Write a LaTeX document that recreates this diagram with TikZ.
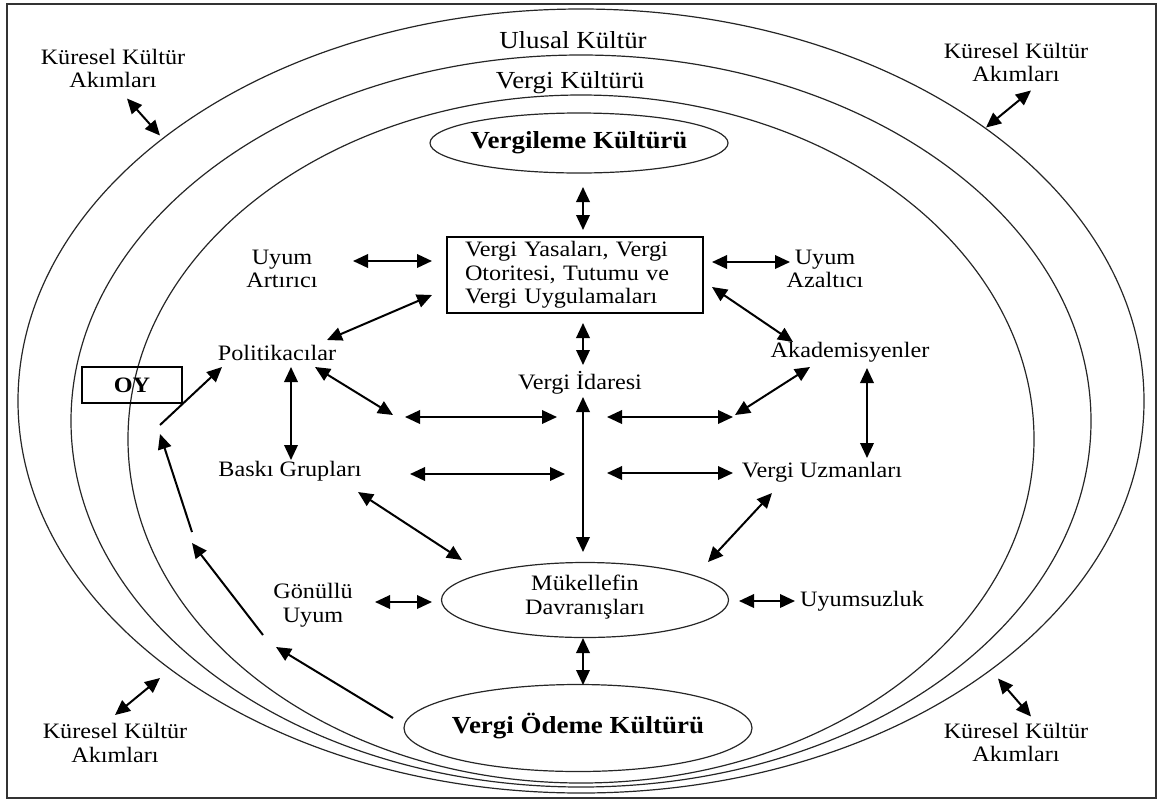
\documentclass[tikz,border=0pt]{standalone}
\usepackage{fontspec}
\setmainfont{Liberation Serif}[FakeStretch=1.1]
\usetikzlibrary{arrows.meta,calc}
\newcommand{\regtext}{\fontsize{22}{23.5}\selectfont}
\newcommand{\bigtext}{\fontsize{24.5}{26}\selectfont}

\begin{document}
\begin{tikzpicture}[x=1pt,y=-1pt,
  lbl/.style={font=\regtext, align=center, inner sep=0pt},
  biglbl/.style={font=\bigtext, align=center, inner sep=0pt},
  ring/.style={line width=1.2pt, draw=black!85},
  dbl/.style={line width=2pt, {Triangle[length=15pt,width=13.5pt]}-{Triangle[length=15pt,width=13.5pt]}},
  one/.style={line width=2pt, -{Triangle[length=15pt,width=13.5pt]}},
  boxed/.style={draw, line width=1.2pt, inner sep=0pt, font=\regtext},
]
\useasboundingbox (0,0) rectangle (1158,801);
\draw[line width=1.6pt, draw=black!80] (7,4) rectangle (1156,798);

% nested culture rings
\draw[ring] (581,401) ellipse [x radius=563, y radius=392];
\draw[ring] (581,421) ellipse [x radius=510, y radius=366];
\draw[ring] (581,439) ellipse [x radius=453, y radius=344];

% ring labels
\node[biglbl] (ulusal) at (573,40) {Ulusal Kültür};
\node[biglbl] (vkult) at (570,83) {Vergi Kültürü};

% corner labels
\node[lbl] (tl) at (113,68.5) {Küresel Kültür\\Akımları};
\node[lbl] (tr) at (1016,62.5) {Küresel Kültür\\Akımları};
\node[lbl] (bl) at (115,743) {Küresel Kültür\\Akımları};
\node[lbl] (br) at (1016,742.5) {Küresel Kültür\\Akımları};

% main nodes
\node[biglbl, font=\bigtext\bfseries] (vergileme) at (579,143) {Vergileme Kültürü};
\draw[ring] (vergileme.center) ellipse [x radius=149, y radius=30];

\node[boxed, minimum width=256pt, minimum height=76pt, text width=220pt, align=left] (box) at (575,275)
  {Vergi Yasaları, Vergi\\Otoritesi, Tutumu ve\\Vergi Uygulamaları};

\node[lbl] (uyumart) at (282,269) {Uyum\\Artırıcı};
\node[lbl] (uyumaz) at (825,269) {Uyum\\Azaltıcı};
\node[lbl] (pol) at (277,353) {Politikacılar};
\node[lbl] (akad) at (850,352) {Akademisyenler};
\node[lbl] (idare) at (580,383) {Vergi İdaresi};
\node[boxed, font=\regtext\bfseries, minimum width=100pt, minimum height=36pt] (oy) at (132,385) {OY};
\node[lbl] (baski) at (290,471) {Baskı Grupları};
\node[lbl] (uzman) at (822,472) {Vergi Uzmanları};

\node[lbl] (muk) at (585,597) {Mükellefin\\Davranışları};
\draw[ring] (585,600) ellipse [x radius=143.5, y radius=37.5];
\node[lbl] (gonullu) at (313,605) {Gönüllü\\Uyum};
\node[lbl] (uyumsuz) at (862,601) {Uyumsuzluk};

\node[biglbl, font=\bigtext\bfseries] (odeme) at (578,726) {Vergi Ödeme Kültürü};
\draw[ring] (578,728) ellipse [x radius=174, y radius=43.5];

% free ends of connectors
\coordinate (m1) at (393,415);
\coordinate (v1) at (276,647);
\coordinate (v2) at (263,635);
\coordinate (v3) at (192,543);
\coordinate (v4) at (192,532);
\coordinate (v5) at (160,434);
\coordinate (v6) at (160,425);

% global culture streams
\draw[dbl] ($(tl)+(14,30)$) -- ($(tl)+(47,67)$);
\draw[dbl] ($(tr)+(15,28)$) -- ($(tr)+(-30,65)$);
\draw[dbl] ($(bl)+(0,-28)$) -- ($(bl)+(45,-65)$);
\draw[dbl] ($(br)+(15,-26)$) -- ($(br)+(-18,-64)$);

% links around the law box
\draw[dbl] ($(vergileme)+(4,44)$) -- ($(box)+(8,-45)$);
\draw[dbl] ($(uyumart)+(71,-8)$) -- ($(box)+(-143,-14)$);
\draw[dbl] ($(box)+(137,-13)$) -- ($(uyumaz)+(-35,-7)$);
\draw[dbl] ($(pol)+(50,-13)$) -- ($(box)+(-143,20)$);
\draw[dbl] ($(box)+(137,12)$) -- ($(akad)+(-57,-10)$);
\draw[dbl] ($(box)+(8,48)$) -- ($(idare)+(3,-18)$);

% middle layer
\draw[dbl] ($(pol)+(14,14)$) -- ($(baski)+(1,-11)$);
\draw[dbl] ($(pol)+(38,14)$) -- (m1);
\draw[dbl] ($(idare)+(-175,34)$) -- ($(idare)+(-23,34)$);
\draw[dbl] ($(idare)+(27,34)$) -- ($(idare)+(153,34)$);
\draw[dbl] ($(akad)+(-40,15)$) -- ($(akad)+(-115,63)$);
\draw[dbl] ($(akad)+(17,16)$) -- ($(uzman)+(45,-14)$);
\draw[dbl] ($(baski)+(120,3)$) -- ($(baski)+(275,3)$);
\draw[dbl] ($(uzman)+(-215,1)$) -- ($(uzman)+(-89,1)$);
\draw[dbl] ($(idare)+(3,14)$) -- ($(muk)+(-2,-45)$);
\draw[dbl] ($(baski)+(68,21)$) -- ($(muk)+(-123,-37)$);
\draw[dbl] ($(uzman)+(-50,21)$) -- ($(muk)+(123,-35)$);

% taxpayer behaviour
\draw[dbl] ($(gonullu)+(62,-3)$) -- ($(muk)+(-153,5)$);
\draw[dbl] ($(muk)+(154,4)$) -- ($(uyumsuz)+(-67,0)$);
\draw[dbl] ($(muk)+(-2,41)$) -- ($(odeme)+(5,-41)$);

% voting path back to politicians
\draw[one] ($(odeme)+(-185,-8)$) -- (v1);
\draw[one] (v2) -- (v3);
\draw[one] (v4) -- (v5);
\draw[one] (v6) -- ($(pol)+(-55,14)$);
\end{tikzpicture}
\end{document}
